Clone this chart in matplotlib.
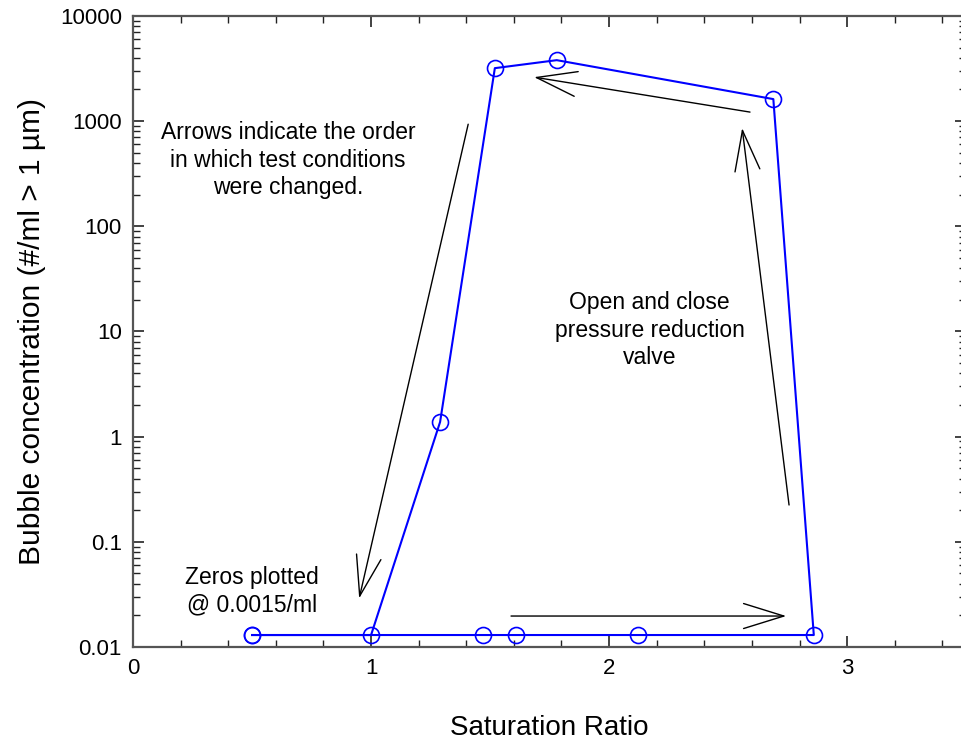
import matplotlib
matplotlib.use("Agg")
import matplotlib.pyplot as plt
from matplotlib.ticker import FixedLocator, NullFormatter, LogLocator

plt.rcParams['font.family'] = ['Liberation Sans', 'DejaVu Sans']

# data (path order as drawn)
sat_ratio = [0.5, 1.47, 1.61, 2.12, 2.86, 2.69, 1.78, 1.52, 1.29, 1.0, 0.5]
bubble_conc = [0.013, 0.013, 0.013, 0.013, 0.013, 1620, 3800, 3190, 1.38, 0.013, 0.013]

x_ticks = [0, 1, 2, 3]
y_ticks = [0.01, 0.1, 1, 10, 100, 1000, 10000]
y_tick_labels = ["0.01", "0.1", "1", "10", "100", "1000", "10000"]

# arrows: (tail, head)
arrows = [
    ((1.408, 935), (0.95, 0.029)),
    ((1.588, 0.0197), (2.744, 0.0197)),
    ((2.756, 0.224), (2.559, 859)),
    ((2.592, 1219), (1.685, 2620)),
]

fig = plt.figure(figsize=(9.62, 7.46), dpi=100)
ax = fig.add_axes([0.1383, 0.1327, 0.866, 0.8459])

ax.plot(sat_ratio, bubble_conc, color='#0000ff', lw=1.5, marker='o',
        markersize=11.5, markerfacecolor='none', markeredgecolor='#0000ff',
        markeredgewidth=1.2, clip_on=False, zorder=3)

ax.set_yscale('log')
ax.set_xlim(0, 3.5)
ax.set_ylim(0.01, 10000)

ax.xaxis.set_major_locator(FixedLocator(x_ticks))
ax.xaxis.set_minor_locator(FixedLocator([i * 0.2 for i in range(18)]))
ax.yaxis.set_major_locator(FixedLocator(y_ticks))
ax.set_yticklabels(y_tick_labels)
ax.yaxis.set_minor_locator(LogLocator(base=10, subs=[2, 3, 4, 5, 6, 7, 8, 9], numticks=20))
ax.yaxis.set_minor_formatter(NullFormatter())

for s in ax.spines.values():
    s.set_color('#555555')
    s.set_linewidth(1.6)

ax.tick_params(which='both', direction='in', top=True, right=True, color='#222222')
ax.tick_params(which='major', length=8, width=1.2, labelsize=16, pad=8)
ax.tick_params(which='minor', length=5, width=1.0)

ax.set_xlabel('Saturation Ratio', fontsize=20, labelpad=26)
ax.set_ylabel('Bubble concentration (#/ml > 1 µm)', fontsize=21.5, labelpad=10)

for (tx, ty), (hx, hy) in arrows:
    ax.annotate('', xy=(hx, hy), xytext=(tx, ty),
                arrowprops=dict(arrowstyle='->,head_length=2.9,head_width=0.9',
                                color='black', lw=1.0, shrinkA=0, shrinkB=0,
                                mutation_scale=10))

ax.text(0.651, 427, 'Arrows indicate the order\nin which test conditions\nwere changed.',
        ha='center', va='center', fontsize=16.5, linespacing=1.27)
ax.text(2.17, 10.3, 'Open and close\npressure reduction\nvalve',
        ha='center', va='center', fontsize=16.5, linespacing=1.27)
ax.text(0.5, 0.034, 'Zeros plotted\n@ 0.0015/ml',
        ha='center', va='center', fontsize=16.5, linespacing=1.27)

fig.savefig('out.png', dpi=100)
